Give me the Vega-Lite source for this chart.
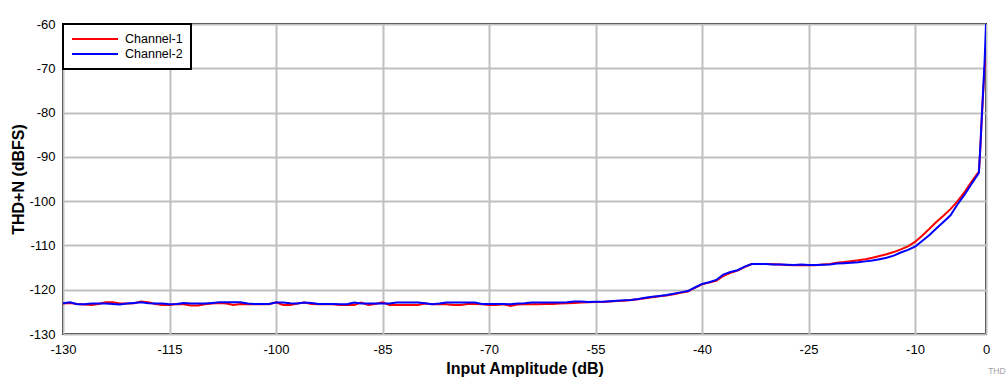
{
  "$schema": "https://vega.github.io/schema/vega-lite/v6.json",
  "width": 923,
  "height": 310,
  "autosize": "none",
  "padding": {"left": 63, "top": 24, "right": 21, "bottom": 53},
  "background": "white",
  "title": {"text": "THD", "orient": "bottom", "anchor": "end", "fontSize": 8.5, "color": "#a0a0a0", "fontWeight": "normal", "font": "Liberation Sans", "dx": 16, "offset": -9},
  "config": {
    "view": {"stroke": "black", "strokeWidth": 2},
    "font": "Liberation Sans",
    "axis": {
      "domain": false,
      "ticks": false,
      "grid": true,
      "gridColor": "#c0c0c0",
      "gridWidth": 2,
      "gridOpacity": 1,
      "labelFont": "Liberation Sans",
      "labelFontSize": 13,
      "labelColor": "black",
      "labelExpr": "toString(datum.value)",
      "titleFont": "Liberation Sans",
      "titleFontSize": 16,
      "titleFontWeight": "bold",
      "titleColor": "black"
    },
    "legend": {
      "strokeColor": "black",
      "strokeWidth": 2,
      "fillColor": "white",
      "padding": 8,
      "labelFont": "Liberation Sans",
      "labelFontSize": 12.5,
      "labelColor": "black"
    }
  },
  "data": {"values": [
    {"x": -130, "Channel-1": -123.13, "Channel-2": -123.05},
    {"x": -129, "Channel-1": -122.98, "Channel-2": -122.83},
    {"x": -128, "Channel-1": -123.21, "Channel-2": -123.28},
    {"x": -127, "Channel-1": -123.36, "Channel-2": -123.28},
    {"x": -126, "Channel-1": -123.43, "Channel-2": -123.13},
    {"x": -125, "Channel-1": -123.21, "Channel-2": -123.13},
    {"x": -124, "Channel-1": -122.83, "Channel-2": -123.13},
    {"x": -123, "Channel-1": -122.83, "Channel-2": -123.21},
    {"x": -122, "Channel-1": -123.13, "Channel-2": -123.36},
    {"x": -121, "Channel-1": -123.13, "Channel-2": -123.13},
    {"x": -120, "Channel-1": -123.05, "Channel-2": -122.98},
    {"x": -119, "Channel-1": -122.68, "Channel-2": -122.83},
    {"x": -118, "Channel-1": -122.83, "Channel-2": -123.05},
    {"x": -117, "Channel-1": -123.21, "Channel-2": -123.13},
    {"x": -116, "Channel-1": -123.43, "Channel-2": -123.13},
    {"x": -115, "Channel-1": -123.43, "Channel-2": -123.28},
    {"x": -114, "Channel-1": -123.21, "Channel-2": -123.21},
    {"x": -113, "Channel-1": -123.28, "Channel-2": -122.98},
    {"x": -112, "Channel-1": -123.58, "Channel-2": -123.13},
    {"x": -111, "Channel-1": -123.58, "Channel-2": -123.13},
    {"x": -110, "Channel-1": -123.28, "Channel-2": -123.13},
    {"x": -109, "Channel-1": -123.13, "Channel-2": -122.98},
    {"x": -108, "Channel-1": -122.98, "Channel-2": -122.83},
    {"x": -107, "Channel-1": -123.13, "Channel-2": -122.83},
    {"x": -106, "Channel-1": -123.43, "Channel-2": -122.83},
    {"x": -105, "Channel-1": -123.21, "Channel-2": -122.83},
    {"x": -104, "Channel-1": -123.28, "Channel-2": -123.13},
    {"x": -103, "Channel-1": -123.28, "Channel-2": -123.21},
    {"x": -102, "Channel-1": -123.28, "Channel-2": -123.21},
    {"x": -101, "Channel-1": -123.28, "Channel-2": -123.21},
    {"x": -100, "Channel-1": -122.83, "Channel-2": -122.9},
    {"x": -99, "Channel-1": -123.43, "Channel-2": -122.9},
    {"x": -98, "Channel-1": -123.43, "Channel-2": -123.05},
    {"x": -97, "Channel-1": -123.13, "Channel-2": -123.13},
    {"x": -96, "Channel-1": -122.9, "Channel-2": -122.9},
    {"x": -95, "Channel-1": -123.21, "Channel-2": -122.98},
    {"x": -94, "Channel-1": -123.28, "Channel-2": -123.21},
    {"x": -93, "Channel-1": -123.28, "Channel-2": -123.21},
    {"x": -92, "Channel-1": -123.28, "Channel-2": -123.21},
    {"x": -91, "Channel-1": -123.43, "Channel-2": -123.28},
    {"x": -90, "Channel-1": -123.43, "Channel-2": -123.28},
    {"x": -89, "Channel-1": -123.43, "Channel-2": -122.9},
    {"x": -88, "Channel-1": -122.9, "Channel-2": -123.13},
    {"x": -87, "Channel-1": -123.43, "Channel-2": -123.13},
    {"x": -86, "Channel-1": -123.21, "Channel-2": -123.13},
    {"x": -85, "Channel-1": -122.83, "Channel-2": -123.13},
    {"x": -84, "Channel-1": -123.43, "Channel-2": -123.13},
    {"x": -83, "Channel-1": -123.43, "Channel-2": -122.9},
    {"x": -82, "Channel-1": -123.43, "Channel-2": -122.9},
    {"x": -81, "Channel-1": -123.43, "Channel-2": -122.9},
    {"x": -80, "Channel-1": -123.43, "Channel-2": -122.9},
    {"x": -79, "Channel-1": -123.13, "Channel-2": -123.05},
    {"x": -78, "Channel-1": -123.28, "Channel-2": -123.28},
    {"x": -77, "Channel-1": -123.21, "Channel-2": -123.13},
    {"x": -76, "Channel-1": -123.28, "Channel-2": -122.9},
    {"x": -75, "Channel-1": -123.43, "Channel-2": -122.9},
    {"x": -74, "Channel-1": -123.43, "Channel-2": -122.9},
    {"x": -73, "Channel-1": -123.21, "Channel-2": -122.9},
    {"x": -72, "Channel-1": -123.21, "Channel-2": -122.9},
    {"x": -71, "Channel-1": -123.28, "Channel-2": -123.21},
    {"x": -70, "Channel-1": -123.43, "Channel-2": -123.21},
    {"x": -69, "Channel-1": -123.43, "Channel-2": -123.21},
    {"x": -68, "Channel-1": -123.28, "Channel-2": -123.21},
    {"x": -67, "Channel-1": -123.65, "Channel-2": -123.28},
    {"x": -66, "Channel-1": -123.36, "Channel-2": -123.13},
    {"x": -65, "Channel-1": -123.28, "Channel-2": -123.05},
    {"x": -64, "Channel-1": -123.28, "Channel-2": -122.9},
    {"x": -63, "Channel-1": -123.28, "Channel-2": -122.9},
    {"x": -62, "Channel-1": -123.21, "Channel-2": -122.9},
    {"x": -61, "Channel-1": -123.21, "Channel-2": -122.9},
    {"x": -60, "Channel-1": -123.13, "Channel-2": -122.9},
    {"x": -59, "Channel-1": -123.05, "Channel-2": -122.83},
    {"x": -58, "Channel-1": -122.98, "Channel-2": -122.68},
    {"x": -57, "Channel-1": -122.9, "Channel-2": -122.68},
    {"x": -56, "Channel-1": -122.85, "Channel-2": -122.75},
    {"x": -55, "Channel-1": -122.8, "Channel-2": -122.7},
    {"x": -54, "Channel-1": -122.75, "Channel-2": -122.7},
    {"x": -53, "Channel-1": -122.65, "Channel-2": -122.6},
    {"x": -52, "Channel-1": -122.55, "Channel-2": -122.5},
    {"x": -51, "Channel-1": -122.5, "Channel-2": -122.4},
    {"x": -50, "Channel-1": -122.3, "Channel-2": -122.3},
    {"x": -49, "Channel-1": -122.15, "Channel-2": -122.1},
    {"x": -48, "Channel-1": -121.95, "Channel-2": -121.8},
    {"x": -47, "Channel-1": -121.7, "Channel-2": -121.6},
    {"x": -46, "Channel-1": -121.5, "Channel-2": -121.4},
    {"x": -45, "Channel-1": -121.3, "Channel-2": -121.2},
    {"x": -44, "Channel-1": -121.0, "Channel-2": -120.9},
    {"x": -43, "Channel-1": -120.7, "Channel-2": -120.6},
    {"x": -42, "Channel-1": -120.4, "Channel-2": -120.3},
    {"x": -41, "Channel-1": -119.6, "Channel-2": -119.5},
    {"x": -40, "Channel-1": -118.8, "Channel-2": -118.7},
    {"x": -39, "Channel-1": -118.4, "Channel-2": -118.3},
    {"x": -38, "Channel-1": -118.0, "Channel-2": -117.8},
    {"x": -37, "Channel-1": -116.9, "Channel-2": -116.6},
    {"x": -36, "Channel-1": -116.2, "Channel-2": -116.0},
    {"x": -35, "Channel-1": -115.7, "Channel-2": -115.6},
    {"x": -34, "Channel-1": -114.9, "Channel-2": -114.8},
    {"x": -33, "Channel-1": -114.2, "Channel-2": -114.2},
    {"x": -32, "Channel-1": -114.2, "Channel-2": -114.2},
    {"x": -31, "Channel-1": -114.2, "Channel-2": -114.2},
    {"x": -30, "Channel-1": -114.25, "Channel-2": -114.3},
    {"x": -29, "Channel-1": -114.3, "Channel-2": -114.3},
    {"x": -28, "Channel-1": -114.4, "Channel-2": -114.35},
    {"x": -27, "Channel-1": -114.5, "Channel-2": -114.4},
    {"x": -26, "Channel-1": -114.5, "Channel-2": -114.3},
    {"x": -25, "Channel-1": -114.4, "Channel-2": -114.4},
    {"x": -24, "Channel-1": -114.45, "Channel-2": -114.4},
    {"x": -23, "Channel-1": -114.3, "Channel-2": -114.35},
    {"x": -22, "Channel-1": -114.2, "Channel-2": -114.3},
    {"x": -21, "Channel-1": -113.9, "Channel-2": -114.1},
    {"x": -20, "Channel-1": -113.75, "Channel-2": -114.0},
    {"x": -19, "Channel-1": -113.55, "Channel-2": -113.9},
    {"x": -18, "Channel-1": -113.35, "Channel-2": -113.8},
    {"x": -17, "Channel-1": -113.1, "Channel-2": -113.6},
    {"x": -16, "Channel-1": -112.8, "Channel-2": -113.4},
    {"x": -15, "Channel-1": -112.4, "Channel-2": -113.1},
    {"x": -14, "Channel-1": -112.0, "Channel-2": -112.8},
    {"x": -13, "Channel-1": -111.5, "Channel-2": -112.3},
    {"x": -12, "Channel-1": -110.9, "Channel-2": -111.6},
    {"x": -11, "Channel-1": -110.2, "Channel-2": -111.0},
    {"x": -10, "Channel-1": -109.2, "Channel-2": -110.3},
    {"x": -9, "Channel-1": -107.8, "Channel-2": -109.0},
    {"x": -8, "Channel-1": -106.3, "Channel-2": -107.7},
    {"x": -7, "Channel-1": -104.7, "Channel-2": -106.2},
    {"x": -6, "Channel-1": -103.3, "Channel-2": -104.7},
    {"x": -5, "Channel-1": -101.8, "Channel-2": -103.2},
    {"x": -4, "Channel-1": -100.0, "Channel-2": -100.7},
    {"x": -3, "Channel-1": -97.9, "Channel-2": -98.5},
    {"x": -2, "Channel-1": -95.5, "Channel-2": -96.0},
    {"x": -1, "Channel-1": -93.3, "Channel-2": -93.6},
    {"x": -0.8, "Channel-1": -88.0, "Channel-2": -87.8},
    {"x": -0.6, "Channel-1": -81.5, "Channel-2": -81.2},
    {"x": -0.4, "Channel-1": -75.5, "Channel-2": -74.9},
    {"x": -0.2, "Channel-1": -70.0, "Channel-2": -68.6},
    {"x": 0, "Channel-1": -68.0, "Channel-2": -60.0}
  ]},
  "transform": [{"fold": ["Channel-1", "Channel-2"], "as": ["ch", "y"]}],
  "mark": {"type": "line", "strokeWidth": 2, "clip": true},
  "encoding": {
    "x": {
      "field": "x", "type": "quantitative",
      "scale": {"domain": [-130, 0], "nice": false, "zero": false},
      "axis": {"values": [-130, -115, -100, -85, -70, -55, -40, -25, -10, 0], "title": "Input Amplitude (dB)", "labelPadding": 9, "titlePadding": 4, "labelFlush": false}
    },
    "y": {
      "field": "y", "type": "quantitative",
      "scale": {"domain": [-130, -60], "nice": false, "zero": false},
      "axis": {"values": [-130, -120, -110, -100, -90, -80, -70, -60], "title": "THD+N (dBFS)", "labelPadding": 8, "titlePadding": 2}
    },
    "color": {
      "field": "ch", "type": "nominal",
      "scale": {"domain": ["Channel-1", "Channel-2"], "range": ["#ff0000", "#0000ff"]},
      "legend": {"title": null, "orient": "top-left", "offset": 0, "symbolType": "stroke", "symbolSize": 2116, "symbolStrokeWidth": 2, "clipHeight": 14, "rowPadding": 1, "labelOffset": 6}
    }
  }
}
